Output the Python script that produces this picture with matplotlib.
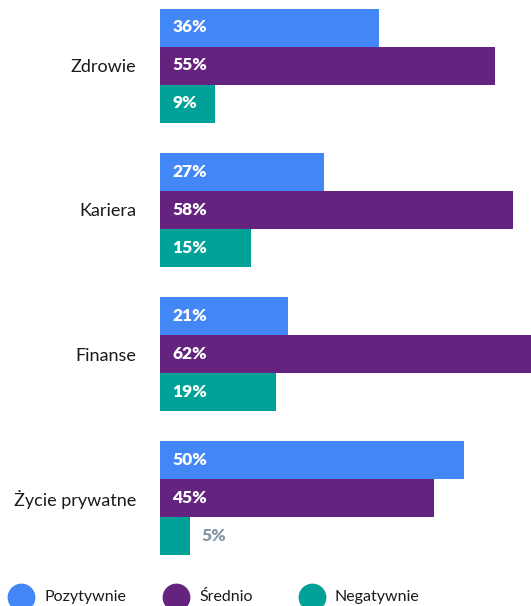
import matplotlib.pyplot as plt
from matplotlib.lines import Line2D

plt.rcParams['font.family'] = ['Lato', 'DejaVu Sans']

kategorie = ["Zdrowie", "Kariera", "Finanse", "Życie prywatne"]
serie = ["Pozytywnie", "Średnio", "Negatywnie"]
pozytywnie = [36, 27, 21, 50]
srednio = [55, 58, 62, 45]
negatywnie = [9, 15, 19, 5]

kolory = ['#4387f6', '#652380', '#00a196']
wartosci = [pozytywnie, srednio, negatywnie]

W, H = 531, 606
fig = plt.figure(figsize=(W / 100, H / 100), dpi=100)

# os: od x=160 px do prawej krawedzi, od gory do ~570 px
ax = fig.add_axes([160 / W, 36 / H, 371 / W, 570 / H])

h = 38 / 144.3
for j, vals in enumerate(wartosci):
    y = [i + (j - 1) * h for i in range(len(kategorie))]
    bars = ax.barh(y, vals, height=h, color=kolory[j], linewidth=0)
    for bar, v in zip(bars, vals):
        yc = bar.get_y() + bar.get_height() / 2
        if v >= 8:
            ax.text(2, yc, f"{v}%", va='center', ha='left', color='white',
                    fontsize=12.5, fontweight='heavy')
        else:
            ax.text(v + 1.8, yc, f"{v}%", va='center', ha='left', color='#8497a6',
                    fontsize=12.5, fontweight='heavy')

# najdluzszy slupek (62%) jest lekko uciety przy prawej krawedzi
ax.set_xlim(0, 61)
ax.set_ylim((570 - 65.5) / 144.3, -65.5 / 144.3)
ax.set_yticks(range(len(kategorie)))
ax.set_yticklabels(kategorie, fontsize=13, color='#1a1a1a')
ax.tick_params(axis='y', length=0, pad=17)
ax.set_xticks([])
for s in ax.spines.values():
    s.set_visible(False)

# legenda
leg_x = [21, 176, 312]
leg_y = 1 - 597 / H
for x, nazwa, kol in zip(leg_x, serie, kolory):
    fig.add_artist(Line2D([x / W], [leg_y], marker='o', markersize=19,
                          color=kol, linestyle='none', transform=fig.transFigure))
    fig.text((x + 23) / W, leg_y, nazwa, fontsize=11.5, va='center', ha='left',
             color='#1a1a1a')

plt.savefig("out.png", dpi=100)
